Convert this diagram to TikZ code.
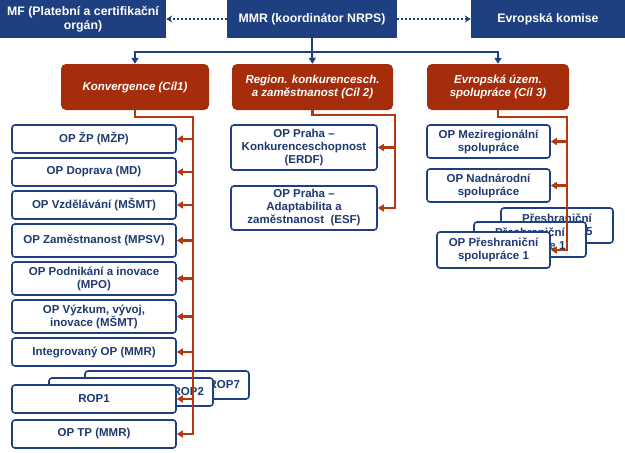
\documentclass[tikz,border=0pt]{standalone}
\usepackage{fontspec}
\setmainfont{Liberation Sans}
\usetikzlibrary{arrows.meta, positioning, calc}
\definecolor{mmrblue}{HTML}{1F4080}
\definecolor{optext}{HTML}{1F3A70}
\definecolor{cilred}{HTML}{A62D0B}
\definecolor{linkred}{HTML}{B5390F}

\begin{document}
\begin{tikzpicture}[x=1pt, y=-1pt,
  topbox/.style={rectangle, fill=mmrblue, text=white, align=center,
    font=\fontsize{12.3}{13.5}\selectfont\bfseries, inner sep=1pt},
  cilbox/.style={rectangle, rounded corners=5pt, fill=cilred, text=white,
    align=center, font=\fontsize{11.5}{13}\selectfont\bfseries\itshape,
    minimum height=46, inner sep=1pt},
  opbox/.style={rectangle, rounded corners=3pt, draw=mmrblue, line width=1.6pt,
    fill=white, text=optext, align=center,
    font=\fontsize{11.5}{13}\selectfont\bfseries, inner sep=1pt},
  treelink/.style={mmrblue, line width=2pt, -{Triangle[length=6pt, width=7pt]}},
  dotlink/.style={mmrblue, line width=2.2pt, dash pattern=on 2pt off 2pt,
    -{Stealth[length=6pt, width=7pt]}},
  redlink/.style={linkred, line width=2.2pt, -{Triangle[length=6pt, width=7pt]}}
]
  \useasboundingbox (0,0) rectangle (625,453);

  % Top level
  \node[topbox, minimum width=166, minimum height=38] (mf) at (83,19)
    {MF (Platební a certifikační\\orgán)};
  \node[topbox, minimum width=170, minimum height=38] (mmr) at (312,19)
    {MMR (koordinátor NRPS)};
  \node[topbox, minimum width=154, minimum height=38] (ek) at (548,19)
    {Evropská komise};

  \draw[dotlink] (mmr.west) -- (mf.east);
  \draw[dotlink] (mmr.east) -- (ek.west);

  % Objectives
  \node[cilbox, minimum width=148] (konv) at (135,87) {Konvergence (Cíl1)};
  \node[cilbox, minimum width=161] (reg) at (312.5,87)
    {Region. konkurencesch.\\a zaměstnanost (Cíl 2)};
  \node[cilbox, minimum width=142] (euz) at (498,87)
    {Evropská územ.\\spolupráce (Cíl 3)};

  \coordinate (split) at (312,52);
  \draw[mmrblue, line width=2pt] (mmr.south) -- (split);
  \draw[treelink] (split) -| (konv.north);
  \draw[treelink] (split) -- (reg.north);
  \draw[treelink] (split) -| (euz.north);

  % Konvergence programmes
  \node[opbox, minimum width=164, minimum height=28] (zp) at (94,139)
    {OP ŽP (MŽP)};
  \node[opbox, minimum width=164, minimum height=28] (doprava) at (94,172)
    {OP Doprava (MD)};
  \node[opbox, minimum width=164, minimum height=28] (vzdel) at (94,205)
    {OP Vzdělávání (MŠMT)};
  \node[opbox, minimum width=164, minimum height=33] (zamest) at (94,240.5)
    {OP Zaměstnanost (MPSV)};
  \node[opbox, minimum width=164, minimum height=33] (podnik) at (94,278.5)
    {OP Podnikání a inovace\\(MPO)};
  \node[opbox, minimum width=164, minimum height=33] (vyzkum) at (94,316.5)
    {OP Výzkum, vývoj,\\inovace (MŠMT)};
  \node[opbox, minimum width=164, minimum height=28] (integ) at (94,352)
    {Integrovaný OP (MMR)};
  \node[opbox, minimum width=164, minimum height=28, text width=146,
    align=right] (rop7) at (167,385) {ROP7};
  \node[opbox, minimum width=164, minimum height=28, text width=146,
    align=right] (rop2) at (131,392) {ROP2};
  \node[opbox, minimum width=164, minimum height=28] (rop1) at (94,399)
    {ROP1};
  \node[opbox, minimum width=164, minimum height=28] (optp) at (94,434)
    {OP TP (MMR)};

  % Cil 2 programmes
  \node[opbox, minimum width=146, minimum height=45] (praha1) at (304,147.5)
    {OP Praha --\\Konkurenceschopnost\\(ERDF)};
  \node[opbox, minimum width=146, minimum height=44] (praha2) at (304,208)
    {OP Praha --\\Adaptabilita a\\zaměstnanost~~(ESF)};

  % Cil 3 programmes
  \node[opbox, minimum width=123, minimum height=33] (mezi) at (488.5,141.5)
    {OP Meziregionální\\spolupráce};
  \node[opbox, minimum width=123, minimum height=33] (nadnar) at (488.5,185.5)
    {OP Nadnárodní\\spolupráce};
  \node[opbox, minimum width=112, minimum height=35] (pres5) at (557,225.5)
    {Přeshraniční\\spolupráce 5};
  \node[opbox, minimum width=112, minimum height=35] (pres2) at (530,239.5)
    {Přeshraniční\\spolupráce 1};
  \node[opbox, minimum width=113, minimum height=36] (pres1) at (493.5,250)
    {OP Přeshraniční\\spolupráce 1};

  % Red connectors
  \coordinate (kbus) at (193,117);
  \draw[redlink] (konv.south) |- (kbus) |- (optp.east);
  \foreach \op in {zp, doprava, vzdel, zamest, podnik, vyzkum, integ, rop1} {
    \draw[redlink] (kbus |- \op.east) -- (\op.east);
  }

  \coordinate (rbus) at (395,115);
  \draw[redlink] (reg.south) |- (rbus) |- (praha2.east);
  \draw[redlink] (rbus |- praha1.east) -- (praha1.east);

  \coordinate (ebus) at (567,117);
  \draw[redlink] (euz.south) |- (ebus) |- (pres1.east);
  \foreach \op in {mezi, nadnar} {
    \draw[redlink] (ebus |- \op.east) -- (\op.east);
  }
\end{tikzpicture}
\end{document}
